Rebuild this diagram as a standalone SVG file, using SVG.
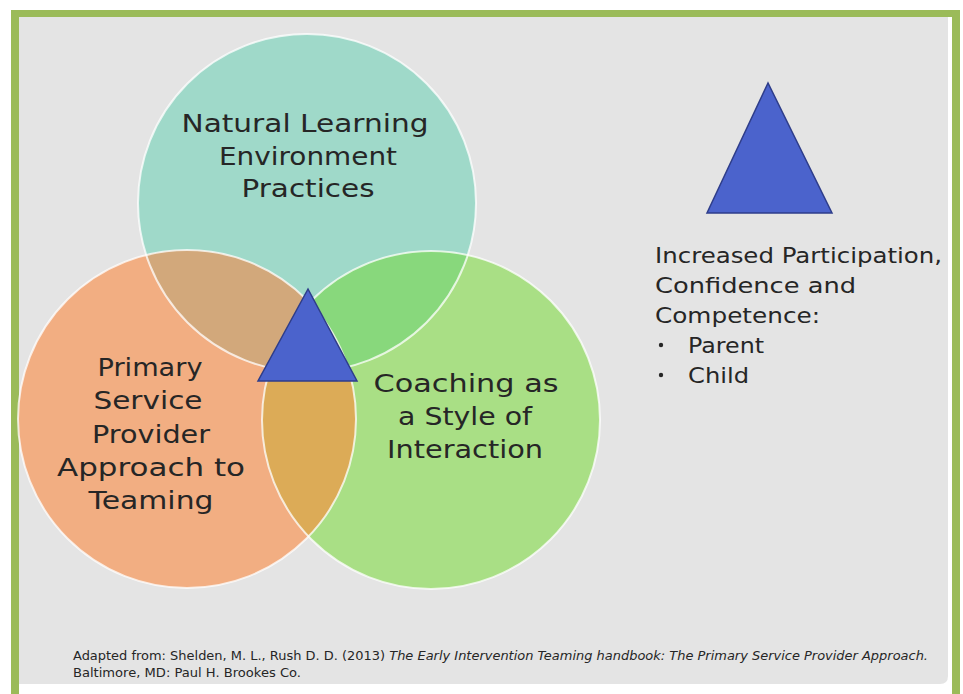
<svg xmlns="http://www.w3.org/2000/svg" width="963" height="694" viewBox="0 0 963 694">
  <style>
    .lbl { font-family: "DejaVu Sans", "Liberation Sans", sans-serif; font-size: 25px; fill: #262626; text-anchor: middle; }
    .side { font-family: "DejaVu Sans", "Liberation Sans", sans-serif; font-size: 22px; fill: #262626; }
    .foot { font-family: "DejaVu Sans", "Liberation Sans", sans-serif; font-size: 12px; fill: #262626; }
    .ring { fill: none; stroke: #ffffff; stroke-width: 2; stroke-opacity: 0.75; }
    .tri { fill: #4b63cc; stroke: #2e3d8a; stroke-width: 1.5; stroke-linejoin: miter; }
  </style>
  <defs>
    <clipPath id="clipTeal"><circle cx="307" cy="203" r="169"/></clipPath>
    <clipPath id="clipOrange"><circle cx="187" cy="419" r="169"/></clipPath>
    <clipPath id="clipGreen"><circle cx="431" cy="420" r="169"/></clipPath>
  </defs>

  <!-- frame and slide panel -->
  <rect x="0" y="0" width="963" height="694" fill="#ffffff"/>
  <rect x="11" y="10" width="949" height="684" fill="#9bbb59"/>
  <rect x="19" y="17" width="933" height="677" fill="#ffffff"/>
  <path d="M19 17 H948 V676 Q948 684 940 684 H19 Z" fill="#e4e4e4"/>

  <!-- Venn circles -->
  <g id="circle-natural-learning">
    <circle cx="307" cy="203" r="169" fill="#9fd9c9"/>
  </g>
  <g id="circle-primary-service">
    <circle cx="187" cy="419" r="169" fill="#f2ae82"/>
  </g>
  <g id="circle-coaching">
    <circle cx="431" cy="420" r="169" fill="#a9df85"/>
  </g>

  <!-- pairwise overlaps -->
  <g id="overlaps">
    <g clip-path="url(#clipTeal)">
      <circle cx="187" cy="419" r="169" fill="#d2a87b"/>
      <circle cx="431" cy="420" r="169" fill="#88d87c"/>
    </g>
    <g clip-path="url(#clipOrange)">
      <circle cx="431" cy="420" r="169" fill="#dcab57"/>
    </g>
    <g clip-path="url(#clipTeal)">
      <g clip-path="url(#clipOrange)">
        <circle cx="431" cy="420" r="169" fill="#c4b063"/>
      </g>
    </g>
  </g>

  <!-- outlines -->
  <g id="outlines">
    <circle class="ring" cx="307" cy="203" r="169"/>
    <circle class="ring" cx="187" cy="419" r="169"/>
    <circle class="ring" cx="431" cy="420" r="169"/>
  </g>

  <!-- circle labels -->
  <g id="label-natural-learning">
    <text class="lbl" x="305" y="132" textLength="247" lengthAdjust="spacingAndGlyphs">Natural Learning</text>
    <text class="lbl" x="308" y="165" textLength="178" lengthAdjust="spacingAndGlyphs">Environment</text>
    <text class="lbl" x="308" y="197" textLength="133" lengthAdjust="spacingAndGlyphs">Practices</text>
  </g>
  <g id="label-primary-service">
    <text class="lbl" x="150" y="376" textLength="105" lengthAdjust="spacingAndGlyphs">Primary</text>
    <text class="lbl" x="148" y="409" textLength="109" lengthAdjust="spacingAndGlyphs">Service</text>
    <text class="lbl" x="151" y="443" textLength="118" lengthAdjust="spacingAndGlyphs">Provider</text>
    <text class="lbl" x="151" y="476" textLength="188" lengthAdjust="spacingAndGlyphs">Approach to</text>
    <text class="lbl" x="151" y="509" textLength="125" lengthAdjust="spacingAndGlyphs">Teaming</text>
  </g>
  <g id="label-coaching">
    <text class="lbl" x="466" y="392" textLength="185" lengthAdjust="spacingAndGlyphs">Coaching as</text>
    <text class="lbl" x="465" y="425" textLength="134" lengthAdjust="spacingAndGlyphs">a Style of</text>
    <text class="lbl" x="465" y="458" textLength="156" lengthAdjust="spacingAndGlyphs">Interaction</text>
  </g>

  <!-- centre triangle -->
  <g id="triangle-centre">
    <polygon class="tri" points="308,289 258,381 357,381"/>
  </g>

  <!-- outcome key -->
  <g id="triangle-key">
    <polygon class="tri" points="768,83 707,213 832,213"/>
  </g>
  <g id="outcome-text">
    <text class="side" x="655" y="263" textLength="287" lengthAdjust="spacingAndGlyphs">Increased Participation,</text>
    <text class="side" x="655" y="293" textLength="201" lengthAdjust="spacingAndGlyphs">Confidence and</text>
    <text class="side" x="655" y="323" textLength="165" lengthAdjust="spacingAndGlyphs">Competence:</text>
    <circle cx="661" cy="345" r="2.2" fill="#262626"/>
    <text class="side" x="688" y="353" textLength="76" lengthAdjust="spacingAndGlyphs">Parent</text>
    <circle cx="661" cy="375" r="2.2" fill="#262626"/>
    <text class="side" x="688" y="383" textLength="61" lengthAdjust="spacingAndGlyphs">Child</text>
  </g>

  <!-- citation -->
  <g id="citation">
    <text class="foot" x="73" y="660" textLength="855" lengthAdjust="spacingAndGlyphs">Adapted from: Shelden, M. L., Rush D. D. (2013) <tspan font-style="italic">The Early Intervention Teaming handbook: The Primary Service Provider Approach.</tspan></text>
    <text class="foot" x="73" y="677" textLength="228" lengthAdjust="spacingAndGlyphs">Baltimore, MD: Paul H. Brookes Co.</text>
  </g>
</svg>
